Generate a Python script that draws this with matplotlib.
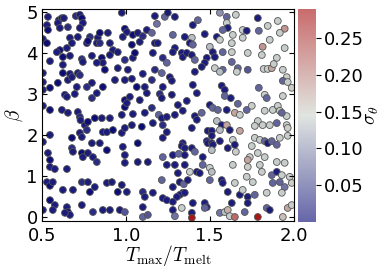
import numpy as np
import matplotlib
matplotlib.use("Agg")
import matplotlib.pyplot as plt
from matplotlib.colors import LinearSegmentedColormap, Normalize
from matplotlib.cm import ScalarMappable

# points, T_max/T_melt < 1.25
T_left = [0.536, 0.601, 0.619, 0.631, 0.595, 0.702, 0.726, 0.738, 0.976, 1.173,
          1.232, 1.185, 1.250, 0.530, 0.536, 0.607, 0.655, 0.744, 0.726, 0.994,
          1.006, 1.125, 1.155, 0.506, 0.530, 0.667, 0.714, 0.786, 0.833, 0.845,
          0.893, 0.982, 1.042, 1.071, 1.101, 1.173, 1.190, 0.607, 0.649, 0.679,
          0.768, 0.774, 0.827, 0.845, 0.905, 0.923, 1.036, 1.083, 0.589, 0.548,
          0.625, 0.667, 0.738, 0.744, 0.798, 0.857, 0.863, 0.905, 0.952, 0.994,
          1.042, 1.054, 1.161, 1.220, 1.244, 0.506, 0.625, 0.625, 0.667, 0.714,
          0.726, 0.827, 0.875, 0.952, 1.012, 1.101, 1.173, 1.214, 0.506, 0.595,
          0.655, 0.679, 0.708, 0.768, 0.798, 0.863, 0.935, 0.994, 1.036, 1.065,
          1.113, 1.155, 1.220, 0.506, 0.548, 0.637, 0.649, 0.696, 0.798, 0.827,
          0.994, 1.024, 1.083, 1.125, 1.202, 1.214, 0.506, 0.548, 0.619, 0.655,
          0.714, 0.726, 0.730, 0.815, 0.857, 0.905, 0.976, 0.994, 1.006, 1.113,
          1.155, 1.196, 1.214, 1.244, 0.756, 0.774, 1.042, 0.506, 0.548, 0.679,
          0.726, 0.738, 0.768, 0.863, 0.887, 0.923, 0.976, 0.994, 1.036, 1.095,
          1.161, 1.220, 1.220, 1.244, 0.536, 0.548, 0.548, 0.577, 0.649, 0.679,
          0.685, 0.738, 0.744, 0.774, 0.798, 0.804, 0.827, 0.845, 0.887, 0.982,
          0.994, 0.994, 1.071, 1.071, 1.131, 1.220, 1.244, 0.530, 0.548, 0.565,
          0.625, 0.685, 0.738, 0.774, 0.786, 0.815, 0.887, 0.917, 0.952, 0.976,
          1.006, 1.101, 1.113, 1.161, 1.214, 1.220, 1.244, 0.506, 0.548, 0.577,
          0.565, 0.649, 0.655, 0.667, 0.637, 0.738, 0.804, 0.863, 0.905, 0.964,
          0.994, 1.101, 1.101, 1.131]
beta_left = [4.88, 4.80, 4.85, 4.85, 4.73, 4.90, 4.93, 4.85, 4.98, 4.90,
             4.88, 4.71, 4.98, 4.68, 4.56, 4.61, 4.63, 4.73, 4.61, 4.59,
             4.51, 4.56, 4.49, 4.34, 4.24, 4.37, 4.39, 4.39, 4.37, 4.49,
             4.49, 4.39, 4.44, 4.49, 4.41, 4.24, 4.24, 4.07, 4.12, 4.24,
             4.24, 4.29, 4.24, 4.24, 4.24, 4.07, 4.20, 4.27, 4.02, 3.80,
             3.90, 3.93, 3.85, 3.78, 3.93, 3.88, 3.76, 3.95, 4.02, 3.83,
             3.88, 4.00, 4.00, 3.88, 3.76, 3.51, 3.71, 3.51, 3.49, 3.51,
             3.46, 3.76, 3.59, 3.63, 3.59, 3.49, 3.59, 3.51, 3.29, 3.27,
             3.34, 3.41, 3.17, 3.17, 3.27, 3.17, 3.34, 3.34, 3.37, 3.17,
             3.17, 3.34, 3.17, 3.10, 3.15, 2.98, 2.93, 3.00, 2.90, 3.02,
             2.85, 2.93, 2.85, 3.02, 3.00, 2.90, 2.71, 2.61, 2.61, 2.54,
             2.56, 2.44, 2.36, 2.41, 2.41, 2.41, 2.49, 2.68, 2.78, 2.54,
             2.66, 2.49, 2.41, 2.44, 2.24, 2.32, 2.51, 1.83, 2.00, 1.93,
             2.05, 1.95, 2.12, 2.07, 2.07, 2.12, 2.05, 2.17, 2.24, 2.20,
             2.29, 2.24, 1.93, 2.07, 1.56, 1.39, 1.22, 1.17, 1.17, 1.68,
             1.59, 1.56, 1.46, 1.56, 1.80, 1.46, 1.34, 1.80, 1.63, 1.71,
             1.51, 1.32, 1.80, 1.34, 1.34, 1.46, 1.27, 0.85, 0.76, 0.85,
             0.66, 0.66, 0.85, 0.85, 0.61, 0.73, 0.83, 0.85, 0.61, 0.78,
             0.61, 0.61, 0.49, 0.59, 0.90, 0.46, 0.41, 0.17, 0.41, 0.29,
             0.17, 0.24, 0.12, 0.05, 0.10, 0.29, 0.12, 0.17, 0.17, 0.17,
             0.12, 0.24, 0.00, 0.05]
sigma_left = [0.02, 0.01, 0.02, 0.02, 0.02, 0.03, 0.02, 0.01, 0.02, 0.02,
              0.07, 0.08, 0.02, 0.02, 0.01, 0.02, 0.03, 0.02, 0.02, 0.01,
              0.02, 0.02, 0.07, 0.02, 0.01, 0.02, 0.02, 0.03, 0.02, 0.01,
              0.02, 0.02, 0.01, 0.02, 0.03, 0.02, 0.02, 0.01, 0.02, 0.02,
              0.02, 0.01, 0.02, 0.03, 0.02, 0.02, 0.01, 0.02, 0.02, 0.02,
              0.01, 0.02, 0.03, 0.02, 0.02, 0.01, 0.02, 0.02, 0.02, 0.03,
              0.02, 0.01, 0.02, 0.03, 0.07, 0.02, 0.02, 0.01, 0.02, 0.02,
              0.03, 0.02, 0.01, 0.02, 0.02, 0.02, 0.03, 0.07, 0.02, 0.01,
              0.02, 0.02, 0.02, 0.03, 0.02, 0.01, 0.02, 0.02, 0.02, 0.01,
              0.02, 0.03, 0.02, 0.02, 0.01, 0.02, 0.02, 0.02, 0.03, 0.02,
              0.01, 0.02, 0.02, 0.02, 0.03, 0.02, 0.02, 0.01, 0.02, 0.02,
              0.02, 0.03, 0.02, 0.01, 0.02, 0.02, 0.02, 0.01, 0.02, 0.02,
              0.03, 0.07, 0.02, 0.02, 0.02, 0.01, 0.02, 0.02, 0.02, 0.01,
              0.02, 0.02, 0.03, 0.02, 0.02, 0.01, 0.02, 0.02, 0.02, 0.01,
              0.02, 0.03, 0.02, 0.02, 0.02, 0.01, 0.02, 0.02, 0.02, 0.03,
              0.02, 0.01, 0.02, 0.02, 0.02, 0.02, 0.03, 0.02, 0.01, 0.02,
              0.02, 0.02, 0.01, 0.02, 0.02, 0.07, 0.02, 0.02, 0.01, 0.02,
              0.02, 0.02, 0.03, 0.02, 0.01, 0.02, 0.02, 0.02, 0.01, 0.02,
              0.02, 0.03, 0.02, 0.02, 0.07, 0.02, 0.02, 0.02, 0.01, 0.02,
              0.02, 0.02, 0.01, 0.02, 0.02, 0.02, 0.03, 0.02, 0.02, 0.02,
              0.06, 0.02, 0.07, 0.06]

# points, T_max/T_melt >= 1.25
T_right = [1.292, 1.429, 1.399, 1.560, 1.601, 1.601, 1.655, 1.607, 1.577, 1.696,
           1.720, 1.786, 1.792, 1.845, 1.905, 1.946, 1.917, 1.280, 1.351, 1.470,
           1.542, 1.560, 1.637, 1.696, 1.857, 1.393, 1.381, 1.399, 1.631, 1.500,
           1.815, 1.946, 1.292, 1.280, 1.333, 1.339, 1.363, 1.393, 1.411, 1.482,
           1.470, 1.452, 1.518, 1.530, 1.577, 1.631, 1.631, 1.726, 1.810, 1.899,
           1.530, 1.577, 1.560, 1.667, 1.661, 1.726, 1.821, 1.845, 1.869, 1.881,
           1.935, 1.958, 1.411, 1.262, 1.274, 1.399, 1.423, 1.571, 1.589, 1.589,
           1.625, 1.667, 1.792, 1.827, 1.839, 1.935, 1.964, 1.935, 1.988, 1.274,
           1.310, 1.363, 1.339, 1.292, 1.452, 1.500, 1.518, 1.548, 1.601, 1.649,
           1.679, 1.720, 1.750, 1.827, 1.875, 1.905, 1.917, 1.958, 1.929, 1.411,
           1.423, 1.393, 1.542, 1.571, 1.601, 1.560, 1.619, 1.679, 1.786, 1.768,
           1.815, 1.857, 1.899, 1.958, 1.964, 1.488, 1.512, 1.512, 1.339, 1.333,
           1.351, 1.393, 1.482, 1.488, 1.512, 1.518, 1.560, 1.637, 1.649, 1.607,
           1.512, 1.750, 1.768, 1.798, 1.827, 1.845, 1.869, 1.899, 1.917, 1.964,
           1.280, 1.315, 1.351, 1.411, 1.458, 1.655, 1.738, 1.786, 1.827, 1.899,
           1.946, 1.292, 1.351, 1.458, 1.500, 1.512, 1.637, 1.726, 1.798, 1.810,
           1.726, 1.310, 1.381, 1.423, 1.440, 1.321, 1.345, 1.369, 1.280, 1.500,
           1.571, 1.577, 1.649, 1.720, 1.756, 1.869, 1.899, 1.929, 1.875, 1.917,
           1.946, 1.976, 1.988, 1.339, 1.321, 1.304, 1.280, 1.351, 1.399, 1.470,
           1.482, 1.470, 1.607, 1.679, 1.696, 1.726, 1.726, 1.768, 1.839, 1.929,
           1.631, 1.280, 1.333, 1.393, 1.393, 1.560, 1.589, 1.607, 1.619, 1.649,
           1.708, 1.786, 1.839, 1.857, 1.935, 1.964, 1.988, 1.292]
beta_right = [4.88, 4.80, 4.68, 4.98, 4.88, 4.73, 4.93, 4.61, 4.56, 4.56,
              4.54, 4.85, 4.54, 4.66, 4.78, 4.59, 4.49, 4.44, 4.39, 4.46,
              4.39, 4.32, 4.44, 4.37, 4.32, 4.37, 4.24, 4.20, 4.24, 4.15,
              4.15, 4.12, 4.12, 4.02, 4.00, 3.90, 4.00, 3.95, 3.83, 3.88,
              3.76, 3.66, 4.02, 3.90, 4.02, 4.02, 3.78, 4.00, 3.95, 3.88,
              3.63, 3.59, 3.54, 3.63, 3.54, 3.59, 3.61, 3.61, 3.63, 3.73,
              3.59, 3.41, 3.54, 3.41, 3.32, 3.22, 3.02, 3.20, 3.10, 2.95,
              2.90, 2.76, 3.15, 2.98, 2.90, 3.32, 3.29, 2.95, 3.15, 2.98,
              2.73, 2.83, 2.59, 2.49, 2.54, 2.73, 2.66, 2.61, 2.61, 2.54,
              2.49, 2.61, 2.71, 2.59, 2.61, 2.71, 2.59, 2.46, 2.54, 2.46,
              2.37, 2.17, 2.34, 2.24, 2.24, 2.12, 2.12, 2.10, 2.34, 2.22,
              2.24, 2.24, 2.29, 2.24, 2.17, 2.10, 2.10, 1.98, 1.80, 1.73,
              1.68, 1.68, 1.85, 1.80, 1.80, 1.76, 1.85, 1.88, 1.76, 1.68,
              1.63, 1.73, 1.93, 1.88, 1.85, 1.80, 1.85, 1.76, 1.93, 1.98,
              1.51, 1.54, 1.51, 1.59, 1.46, 1.59, 1.46, 1.56, 1.46, 1.34,
              1.32, 1.27, 1.27, 1.27, 1.20, 1.10, 1.27, 1.22, 1.27, 1.10,
              1.39, 1.07, 1.10, 1.10, 1.07, 0.85, 0.80, 0.90, 0.73, 0.90,
              0.90, 0.83, 0.83, 0.98, 0.85, 1.02, 1.10, 1.02, 0.83, 0.85,
              0.73, 0.98, 0.83, 0.59, 0.54, 0.49, 0.37, 0.59, 0.34, 0.34,
              0.24, 0.22, 0.61, 0.54, 0.66, 0.49, 0.34, 0.54, 0.59, 0.59,
              0.34, 0.17, 0.22, 0.10, -0.02, 0.10, 0.12, 0.17, 0.02, 0.00,
              0.12, 0.00, 0.22, 0.17, 0.00, 0.22, 0.29, 0.02]
sigma_right = [0.02, 0.07, 0.02, 0.10, 0.07, 0.14, 0.14, 0.02, 0.07, 0.14,
               0.02, 0.02, 0.07, 0.14, 0.14, 0.19, 0.14, 0.07, 0.02, 0.02,
               0.02, 0.14, 0.14, 0.14, 0.14, 0.13, 0.02, 0.07, 0.14, 0.13,
               0.19, 0.14, 0.02, 0.02, 0.02, 0.02, 0.02, 0.02, 0.07, 0.02,
               0.02, 0.02, 0.02, 0.02, 0.07, 0.14, 0.07, 0.14, 0.14, 0.14,
               0.14, 0.07, 0.13, 0.07, 0.14, 0.06, 0.14, 0.15, 0.18, 0.14,
               0.14, 0.15, 0.02, 0.02, 0.02, 0.02, 0.02, 0.02, 0.02, 0.07,
               0.02, 0.07, 0.07, 0.14, 0.07, 0.07, 0.14, 0.14, 0.15, 0.02,
               0.02, 0.02, 0.02, 0.02, 0.07, 0.02, 0.07, 0.07, 0.02, 0.18,
               0.14, 0.07, 0.14, 0.14, 0.14, 0.14, 0.15, 0.14, 0.07, 0.02,
               0.02, 0.02, 0.13, 0.02, 0.18, 0.13, 0.02, 0.18, 0.14, 0.14,
               0.14, 0.14, 0.07, 0.14, 0.15, 0.02, 0.02, 0.02, 0.02, 0.02,
               0.02, 0.02, 0.02, 0.02, 0.02, 0.02, 0.02, 0.14, 0.02, 0.02,
               0.13, 0.14, 0.14, 0.14, 0.07, 0.02, 0.07, 0.07, 0.14, 0.14,
               0.02, 0.07, 0.02, 0.07, 0.02, 0.14, 0.14, 0.14, 0.14, 0.14,
               0.14, 0.02, 0.02, 0.07, 0.14, 0.13, 0.14, 0.15, 0.14, 0.14,
               0.18, 0.02, 0.14, 0.02, 0.02, 0.02, 0.07, 0.02, 0.02, 0.07,
               0.02, 0.02, 0.14, 0.14, 0.14, 0.07, 0.02, 0.14, 0.07, 0.07,
               0.08, 0.14, 0.15, 0.02, 0.02, 0.02, 0.02, 0.02, 0.02, 0.02,
               0.02, 0.07, 0.02, 0.02, 0.14, 0.02, 0.02, 0.07, 0.14, 0.14,
               0.02, 0.02, 0.14, 0.02, 0.28, 0.08, 0.13, 0.17, 0.14, 0.22,
               0.07, 0.28, 0.07, 0.02, 0.16, 0.18, 0.14, 0.08]

T_ratio = np.array(T_left + T_right)
beta = np.array(beta_left + beta_right)
sigma = np.array(sigma_left + sigma_right)

plt.rcParams['mathtext.fontset'] = 'cm'
plt.rcParams['font.size'] = 13

cmap = LinearSegmentedColormap.from_list(
    'sigma', [(0.0, '#000070'), (0.5, '#cdd4cd'), (1.0, '#a50a0a')])
norm = Normalize(vmin=0.0, vmax=0.29)

fig = plt.figure(figsize=(3.81, 2.67), dpi=100)
ax = fig.add_axes([0.110, 0.172, 0.661, 0.794])
cax = fig.add_axes([0.782, 0.169, 0.047, 0.798])

ax.scatter(T_ratio, beta, c=sigma, cmap=cmap, norm=norm, s=24,
           edgecolors='#555555', linewidths=0.6)
ax.set_xlim(0.5, 2.0)
ax.set_ylim(-0.1, 5.07)
ax.set_xticks([0.5, 1.0, 1.5, 2.0])
ax.set_yticks([0, 1, 2, 3, 4, 5])
ax.tick_params(direction='in', top=True, right=True, labelsize=13)
ax.tick_params(axis='x', pad=4)
ax.tick_params(axis='y', pad=3)
ax.set_xlabel(r'$T_{\rm max}/T_{\rm melt}$', fontsize=14, labelpad=-1)
ax.set_ylabel(r'$\beta$', fontsize=14, labelpad=1)

cb = fig.colorbar(ScalarMappable(norm=norm, cmap=cmap), cax=cax, alpha=0.6)
cb.set_ticks([0.05, 0.10, 0.15, 0.20, 0.25])
cb.ax.tick_params(labelsize=13, pad=2)
cb.outline.set_visible(False)
cb.set_label(r'$\sigma_\theta$', fontsize=14, labelpad=-1)

fig.savefig('out.png', dpi=100)
